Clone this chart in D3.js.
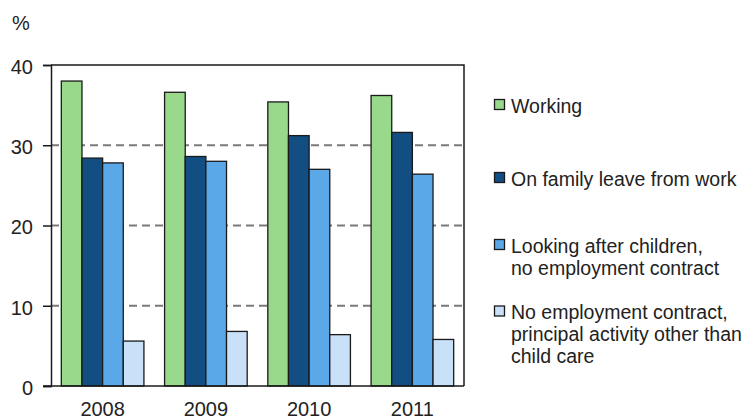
<!DOCTYPE html>
<html>
<head>
<meta charset="utf-8">
<script src="https://cdn.jsdelivr.net/npm/d3@7/dist/d3.min.js"></script>
<style>
  html, body { margin: 0; padding: 0; background: #fff; }
  svg { display: block; font-family: "Liberation Sans", Arial, sans-serif; }
</style>
</head>
<body>
<svg id="chart" width="742" height="419"></svg>
<script>
// Share of mothers by principal activity, %
const years = ["2008", "2009", "2010", "2011"];
const seriesNames = ["Working", "On family leave from work", "Looking after children, no employment contract", "No employment contract, principal activity other than child care"];
const working      = [38.0, 36.6, 35.4, 36.2];
const familyLeave  = [28.4, 28.6, 31.2, 31.6];
const lookingAfter = [27.8, 28.0, 27.0, 26.4];
const otherActivity = [5.6, 6.8, 6.4, 5.8];
const yTicks = [0, 10, 20, 30, 40];
const legendLines = [
  ["Working"],
  ["On family leave from work"],
  ["Looking after children,", "no employment contract"],
  ["No employment contract,", "principal activity other than", "child care"]
];

const colors = ["#99d98c", "#124e82", "#5ba8e8", "#c8e0f8"];
const seriesValues = [working, familyLeave, lookingAfter, otherActivity];

const svg = d3.select("#chart");
const plotLeft = 51, plotRight = 464, plotTop = 65, plotBottom = 386;

const x0 = d3.scaleBand().domain(years).range([plotLeft, plotRight]).paddingInner(0.2).paddingOuter(0.1);
const x1 = d3.scaleBand().domain(d3.range(seriesNames.length)).range([0, x0.bandwidth()]);
const y = d3.scaleLinear().domain([0, 40]).range([plotBottom, plotTop]);

// dashed gridlines
svg.append("g")
  .selectAll("line")
  .data(yTicks.filter(t => t > 0 && t < 40))
  .join("line")
  .attr("x1", plotLeft).attr("x2", plotRight)
  .attr("y1", d => y(d)).attr("y2", d => y(d))
  .attr("stroke", "#7a7a7a")
  .attr("stroke-width", 1.8)
  .attr("stroke-dasharray", "8,5");

// bars
const groups = svg.append("g")
  .selectAll("g")
  .data(years)
  .join("g")
  .attr("transform", d => `translate(${x0(d)},0)`);

groups.selectAll("rect")
  .data((d, i) => seriesValues.map((vals, s) => ({ s, v: vals[i] })))
  .join("rect")
  .attr("x", d => x1(d.s))
  .attr("width", x1.bandwidth())
  .attr("y", d => y(d.v))
  .attr("height", d => y(0) - y(d.v))
  .attr("fill", d => colors[d.s])
  .attr("stroke", "#1a1a1a")
  .attr("stroke-width", 1.3);

// frame: top and right borders
svg.append("path")
  .attr("d", `M${plotLeft},${plotTop}H${plotRight}V${plotBottom}`)
  .attr("fill", "none")
  .attr("stroke", "#1a1a1a")
  .attr("stroke-width", 1.5);

// y axis
const yAxis = svg.append("g")
  .attr("transform", `translate(${plotLeft},0)`)
  .call(d3.axisLeft(y).tickValues(yTicks).tickSize(8).tickPadding(10).tickFormat(d3.format("d")));
yAxis.select(".domain").attr("stroke", "#1a1a1a").attr("stroke-width", 1.5);
yAxis.selectAll(".tick line").attr("stroke", "#1a1a1a").attr("stroke-width", 1.5);
yAxis.selectAll(".tick text")
  .attr("font-size", 20)
  .attr("fill", "#222")
  .attr("font-family", "'Liberation Sans', Arial, sans-serif")
  .attr("dy", "0.42em");

// x axis baseline extends left to meet the tick
svg.append("line")
  .attr("x1", plotLeft - 8).attr("x2", plotRight)
  .attr("y1", plotBottom).attr("y2", plotBottom)
  .attr("stroke", "#1a1a1a").attr("stroke-width", 1.5);

// year labels
svg.append("g")
  .selectAll("text")
  .data(years)
  .join("text")
  .attr("x", d => x0(d) + x0.bandwidth() / 2)
  .attr("y", 416)
  .attr("text-anchor", "middle")
  .attr("font-size", 20)
  .attr("fill", "#222")
  .text(d => d);

// unit label
svg.append("text")
  .attr("x", 12).attr("y", 30)
  .attr("font-size", 20)
  .attr("fill", "#222")
  .text("%");

// legend
const legendTop = [99, 172, 239, 305.5];
const legend = svg.append("g");
legendLines.forEach((lines, i) => {
  legend.append("rect")
    .attr("x", 494.5).attr("y", legendTop[i] + 0.5)
    .attr("width", 10).attr("height", 10)
    .attr("fill", colors[i])
    .attr("stroke", "#1a1a1a")
    .attr("stroke-width", 1.3);
  const t = legend.append("text")
    .attr("x", 511)
    .attr("y", legendTop[i] + 13.5)
    .attr("font-size", 19.5)
    .attr("fill", "#222");
  lines.forEach((line, j) => {
    t.append("tspan")
      .attr("x", 511)
      .attr("dy", j === 0 ? 0 : 22)
      .text(line);
  });
});
</script>
</body>
</html>
